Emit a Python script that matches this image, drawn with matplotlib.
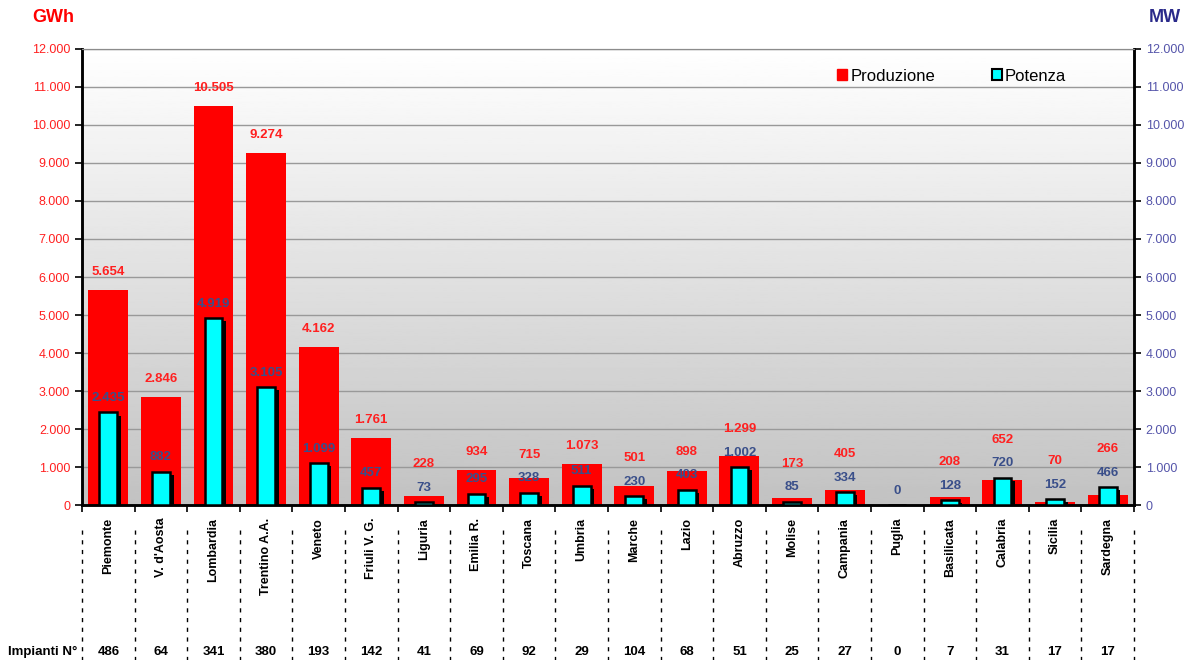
import numpy as np
import matplotlib
matplotlib.use("Agg")
import matplotlib.pyplot as plt
from matplotlib.patches import Patch

plt.rcParams['font.family'] = ['Liberation Sans', 'DejaVu Sans']

# Dati per regione
regioni = ["Piemonte", "V. d'Aosta", "Lombardia", "Trentino A.A.", "Veneto", "Friuli V. G.",
           "Liguria", "Emilia R.", "Toscana", "Umbria", "Marche", "Lazio", "Abruzzo",
           "Molise", "Campania", "Puglia", "Basilicata", "Calabria", "Sicilia", "Sardegna"]
produzione = [5654, 2846, 10505, 9274, 4162, 1761, 228, 934, 715, 1073,
              501, 898, 1299, 173, 405, 0, 208, 652, 70, 266]
potenza = [2435, 882, 4919, 3105, 1099, 457, 73, 295, 328, 511,
           230, 403, 1002, 85, 334, 0, 128, 720, 152, 466]
impianti = [486, 64, 341, 380, 193, 142, 41, 69, 92, 29,
            104, 68, 51, 25, 27, 0, 7, 31, 17, 17]
yticks = list(range(0, 13000, 1000))


def fmt(v):
    return f"{v:,}".replace(",", ".")


fig = plt.figure(figsize=(11.87, 6.6), dpi=100)
ax = fig.add_axes([0.0691, 0.2348, 0.8862, 0.691])
x = np.arange(len(regioni))

# sfondo sfumato
grad = np.linspace(1.0, 0.76, 256).reshape(-1, 1)
ax.imshow(grad, cmap='gray', vmin=0, vmax=1, aspect='auto',
          extent=[0, 1, 0, 1], transform=ax.transAxes, zorder=0)

ax.set_xlim(-0.5, len(regioni) - 0.5)
ax.set_ylim(0, 12000)
for t in yticks[1:]:
    ax.axhline(t, color='#999999', lw=1, zorder=1)

ax.bar(x, produzione, width=0.76, color='#ff0000', zorder=2)

ax2 = ax.twinx()
ax2.set_ylim(0, 12000)
ax2.bar(x + 0.07, [max(p - 80, 0) for p in potenza], width=0.34, color='black', zorder=2)
ax2.bar(x, potenza, width=0.34, color='#00ffff', edgecolor='black', linewidth=1.8, zorder=3)

# etichette: quelle della produzione salgono sopra quelle della potenza se vicine
for xi, vp, vw in zip(x, produzione, potenza):
    y_pot = vw + 380
    y_prod = max(vp + 470, y_pot + 620)
    ax2.text(xi, y_pot, fmt(vw), ha='center', va='center', color='#3a4f8a',
             fontsize=9.5, fontweight='bold', zorder=5)
    if vp > 0:
        ax.text(xi, y_prod, fmt(vp), ha='center', va='center', color='#ff2020',
                fontsize=9.5, fontweight='bold', zorder=5)

# assi
ax.set_yticks(yticks)
ax.set_yticklabels([fmt(t) for t in yticks], color='#ff2020', fontsize=9)
ax2.set_yticks(yticks)
ax2.set_yticklabels([fmt(t) for t in yticks], color='#5555aa', fontsize=9)
ax.set_xticks(np.arange(-0.5, len(regioni), 1.0))
ax.set_xticklabels([])
ax.tick_params(axis='x', length=5, width=1.2, color='black')
ax.tick_params(axis='y', length=5, width=1.2)
ax2.tick_params(axis='y', length=5, width=1.2)
for a in (ax, ax2):
    a.spines['top'].set_color('#8c8c8c')
    a.spines['left'].set_linewidth(1.8)
    a.spines['right'].set_linewidth(1.8)
    a.spines['bottom'].set_linewidth(1.8)

# tabella sotto
tr = ax.get_xaxis_transform()
for xi, nome, n in zip(x, regioni, impianti):
    ax.text(xi, -0.028, nome, rotation=90, ha='center', va='top', transform=tr,
            fontsize=9, fontweight='bold')
    ax.text(xi, -0.322, str(n), ha='center', va='center', transform=tr,
            fontsize=9.5, fontweight='bold')
for b in np.arange(-0.5, len(regioni), 1.0):
    ax.plot([b, b], [-0.055, -0.345], transform=tr, clip_on=False,
            color='black', lw=1, ls=(0, (3, 4)))
fig.text(0.007, 1 - 652 / 660, "Impianti N°", ha='left', va='center',
         fontsize=9.5, fontweight='bold')

fig.text(0.027, 1 - 18 / 660, "GWh", color='#ff0000', fontsize=13,
         fontweight='bold', va='center')
fig.text(0.968, 1 - 18 / 660, "MW", color='#2a2a8a', fontsize=13,
         fontweight='bold', va='center')

handles = [Patch(facecolor='#ff0000', edgecolor='#ff0000'),
           Patch(facecolor='#00ffff', edgecolor='black', linewidth=1.5)]
ax2.legend(handles, ["Produzione", "Potenza"], ncol=2, frameon=False,
           loc='upper right', bbox_to_anchor=(0.95, 0.99), fontsize=12,
           handlelength=0.6, handleheight=0.6, handletextpad=0.2, columnspacing=3.4)

fig.savefig("out.png", dpi=100)
